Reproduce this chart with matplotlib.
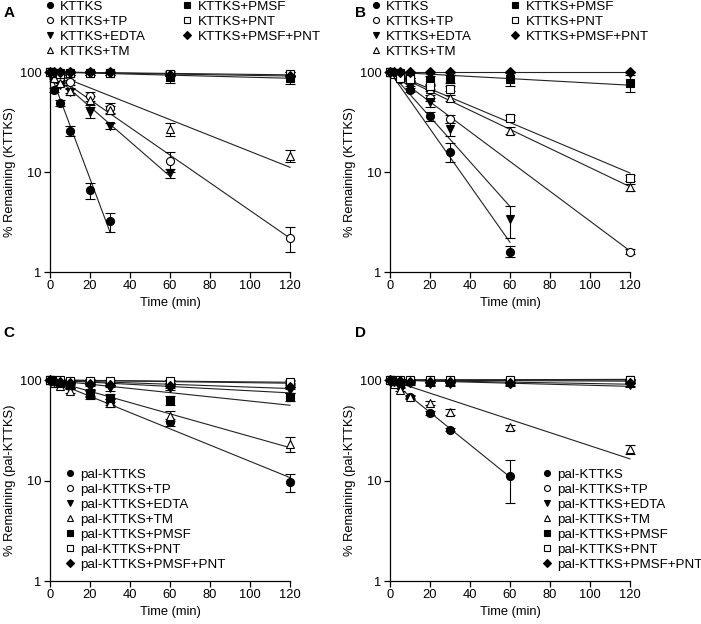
import numpy as np
import matplotlib
matplotlib.use("Agg")
import matplotlib.pyplot as plt
from matplotlib.lines import Line2D

plt.rcParams['font.family'] = ['Liberation Sans', 'DejaVu Sans']

time = [0, 2, 5, 10, 20, 30, 60, 120]
nan = float('nan')

# Panel A (KTTKS)
A_labels = ["KTTKS", "KTTKS+TP", "KTTKS+EDTA", "KTTKS+TM", "KTTKS+PMSF", "KTTKS+PNT", "KTTKS+PMSF+PNT"]
A_vals = [
    [100, 66, 49, 26, 6.6, 3.2, nan, nan],
    [100, 92, 87, 79, 57, 44, 13, 2.2],
    [100, 85, 75, 63, 40, 29, 9.8, nan],
    [100, 88, 78, 65, 52, 42, 27, 14.5],
    [100, 98, 97, 98, 98, 97, 90, 88],
    [100, 97, 96, 97, 98, 97, 96, 95],
    [100, 99, 99, 99, 99, 99, 93, 92],
]
A_err = [
    [0, 3, 3, 3, 1.2, 0.7, 0, 0],
    [0, 3, 3, 4, 6, 5, 3, 0.6],
    [0, 3, 3, 4, 5, 2, 1, 0],
    [0, 3, 3, 4, 5, 4, 4, 2],
    [0, 2, 2, 4, 4, 4, 12, 12],
    [0, 2, 2, 4, 4, 4, 4, 4],
    [0, 2, 2, 2, 2, 2, 2, 2],
]

# Panel B (KTTKS)
B_labels = A_labels
B_vals = [
    [100, 95, 85, 66, 36, 16, 1.6, nan],
    [100, 97, 90, 80, 55, 34, nan, 1.6],
    [100, 96, 88, 75, 50, 27, 3.4, nan],
    [100, 98, 92, 85, 68, 55, 26, 7],
    [100, 98, 97, 92, 83, 85, 85, 78],
    [100, 95, 88, 85, 72, 68, 35, 8.7],
    [100, 100, 100, 100, 100, 100, 100, 100],
]
B_err = [
    [0, 2, 2, 3, 4, 3.5, 0.2, 0],
    [0, 2, 2, 3, 4, 3, 0, 0.1],
    [0, 2, 2, 3, 5, 4, 1.2, 0],
    [0, 2, 2, 3, 4, 4, 2, 0.6],
    [0, 2, 2, 5, 8, 8, 12, 15],
    [0, 3, 3, 3, 4, 4, 2, 0.6],
    [0, 1, 1, 1, 1, 1, 1, 1],
]

# Panel C (pal-KTTKS)
C_labels = ["pal-KTTKS", "pal-KTTKS+TP", "pal-KTTKS+EDTA", "pal-KTTKS+TM", "pal-KTTKS+PMSF", "pal-KTTKS+PNT", "pal-KTTKS+PMSF+PNT"]
C_vals = [
    [100, 97, 93, 87, 71, 60, 38, 9.7],
    [100, 99, 98, 97, 98, 96, 96, 94],
    [100, 96, 93, 88, 85, 83, 84, 80],
    [100, 94, 88, 78, 73, 59, 44, 23],
    [100, 97, 94, 90, 75, 66, 63, 68],
    [100, 99, 99, 98, 98, 97, 97, 96],
    [100, 98, 96, 93, 92, 90, 88, 86],
]
C_err = [
    [0, 3, 3, 4, 6, 4, 3, 2],
    [0, 2, 2, 3, 3, 3, 3, 3],
    [0, 3, 3, 5, 5, 5, 5, 5],
    [0, 3, 3, 4, 6, 5, 5, 4],
    [0, 3, 3, 6, 6, 6, 6, 6],
    [0, 2, 2, 3, 5, 3, 3, 3],
    [0, 2, 2, 4, 4, 4, 4, 4],
]

# Panel D (pal-KTTKS)
D_labels = C_labels
D_vals = [
    [100, 96, 88, 68, 47, 32, 11, nan],
    [100, 100, 101, 101, 101, 101, 101, 101],
    [100, 97, 95, 93, 92, 92, 91, 90],
    [100, 92, 80, 68, 59, 48, 34, 20.5],
    [100, 98, 98, 97, 97, 97, 98, 99],
    [100, 99, 99, 100, 100, 100, 100, 100],
    [100, 98, 97, 96, 95, 95, 94, 93],
]
D_err = [
    [0, 3, 2, 2, 2, 1, 5, 0],
    [0, 1, 1, 1, 1, 1, 1, 1],
    [0, 3, 3, 4, 4, 4, 4, 4],
    [0, 3, 3, 3, 3, 3, 2, 2],
    [0, 2, 2, 3, 3, 3, 3, 3],
    [0, 1, 1, 1, 1, 1, 1, 1],
    [0, 3, 3, 5, 5, 5, 5, 5],
]

markers = [
    dict(marker='o', mfc='black', mec='black'),
    dict(marker='o', mfc='white', mec='black'),
    dict(marker='v', mfc='black', mec='black'),
    dict(marker='^', mfc='white', mec='black'),
    dict(marker='s', mfc='black', mec='black'),
    dict(marker='s', mfc='white', mec='black'),
    dict(marker='D', mfc='black', mec='black'),
]
msizes = [5.8, 5.8, 5.8, 5.8, 5.2, 5.2, 4.7]

fig = plt.figure(figsize=(7.01, 6.24), dpi=100)

W = 0.3424
axA = fig.add_axes([0.0713, 0.5641, W, 0.3205])
axB = fig.add_axes([0.5563, 0.5641, W, 0.3205])
axC = fig.add_axes([0.0713, 0.0689, W, 0.3221])
axD = fig.add_axes([0.5563, 0.0689, W, 0.3221])

FS = 9.3


def draw(ax, vals, errs, ylabel):
    t = np.array(time, dtype=float)
    for i, (v, e) in enumerate(zip(vals, errs)):
        v = np.array(v, dtype=float)
        e = np.array(e, dtype=float)
        ok = ~np.isnan(v)
        tt, vv, ee = t[ok], v[ok], e[ok]
        # log-linear fit through 100% at t=0
        lv = np.log(vv / 100.0)
        k = -np.sum(tt * lv) / np.sum(tt * tt)
        tfit = np.linspace(0, tt.max(), 50)
        ax.plot(tfit, 100 * np.exp(-k * tfit), color='#222222', lw=0.8, zorder=2, clip_on=False)
        ax.errorbar(tt, vv, yerr=ee, fmt='none', ecolor='black', elinewidth=0.8,
                    capsize=3.5, capthick=0.8, zorder=3, clip_on=False)
        ax.plot(tt, vv, linestyle='none', ms=msizes[i], mew=0.8, zorder=4,
                clip_on=False, **markers[i])
    ax.set_yscale('log')
    ax.set_ylim(1, 100)
    ax.set_xlim(0, 120)
    ax.set_xticks([0, 20, 40, 60, 80, 100, 120])
    ax.set_yticks([1, 10, 100])
    ax.set_yticklabels(['1', '10', '100'])
    ax.yaxis.set_minor_locator(matplotlib.ticker.NullLocator())
    ax.spines['top'].set_visible(False)
    ax.spines['right'].set_visible(False)
    ax.spines['left'].set_linewidth(0.9)
    ax.spines['bottom'].set_linewidth(0.9)
    ax.tick_params(direction='out', length=4, width=0.9, labelsize=FS, pad=2)
    ax.set_xlabel('Time (min)', fontsize=FS, labelpad=3)
    ax.set_ylabel(ylabel, fontsize=FS, labelpad=3)


draw(axA, A_vals, A_err, '% Remaining (KTTKS)')
draw(axB, B_vals, B_err, '% Remaining (KTTKS)')
draw(axC, C_vals, C_err, '% Remaining (pal-KTTKS)')
draw(axD, D_vals, D_err, '% Remaining (pal-KTTKS)')


def handles(labels):
    hs = []
    for i, lab in enumerate(labels):
        hs.append(Line2D([], [], linestyle='none', ms=4.3, mew=0.8, label=lab, **markers[i]))
    return hs


legkw = dict(frameon=False, fontsize=9.6, handlelength=0.8, handletextpad=0.36,
             labelspacing=0.2, borderpad=0, borderaxespad=0)

fig.legend(handles=handles(A_labels), ncol=2, loc='upper left',
           bbox_to_anchor=(0.0638, 0.999), columnspacing=2.7, **legkw)
fig.legend(handles=handles(B_labels), ncol=2, loc='upper left',
           bbox_to_anchor=(0.5288, 0.999), columnspacing=2.85, **legkw)
fig.legend(handles=handles(C_labels), ncol=1, loc='upper left',
           bbox_to_anchor=(0.0923, 0.249), **legkw)
fig.legend(handles=handles(D_labels), ncol=1, loc='upper left',
           bbox_to_anchor=(0.7727, 0.249), **legkw)

for lab, x, y in [('A', 0.005, 0.99), ('B', 0.506, 0.99), ('C', 0.005, 0.478), ('D', 0.506, 0.478)]:
    fig.text(x, y, lab, fontsize=11, fontweight='bold', va='top', ha='left')

fig.savefig('out.png', dpi=100)
